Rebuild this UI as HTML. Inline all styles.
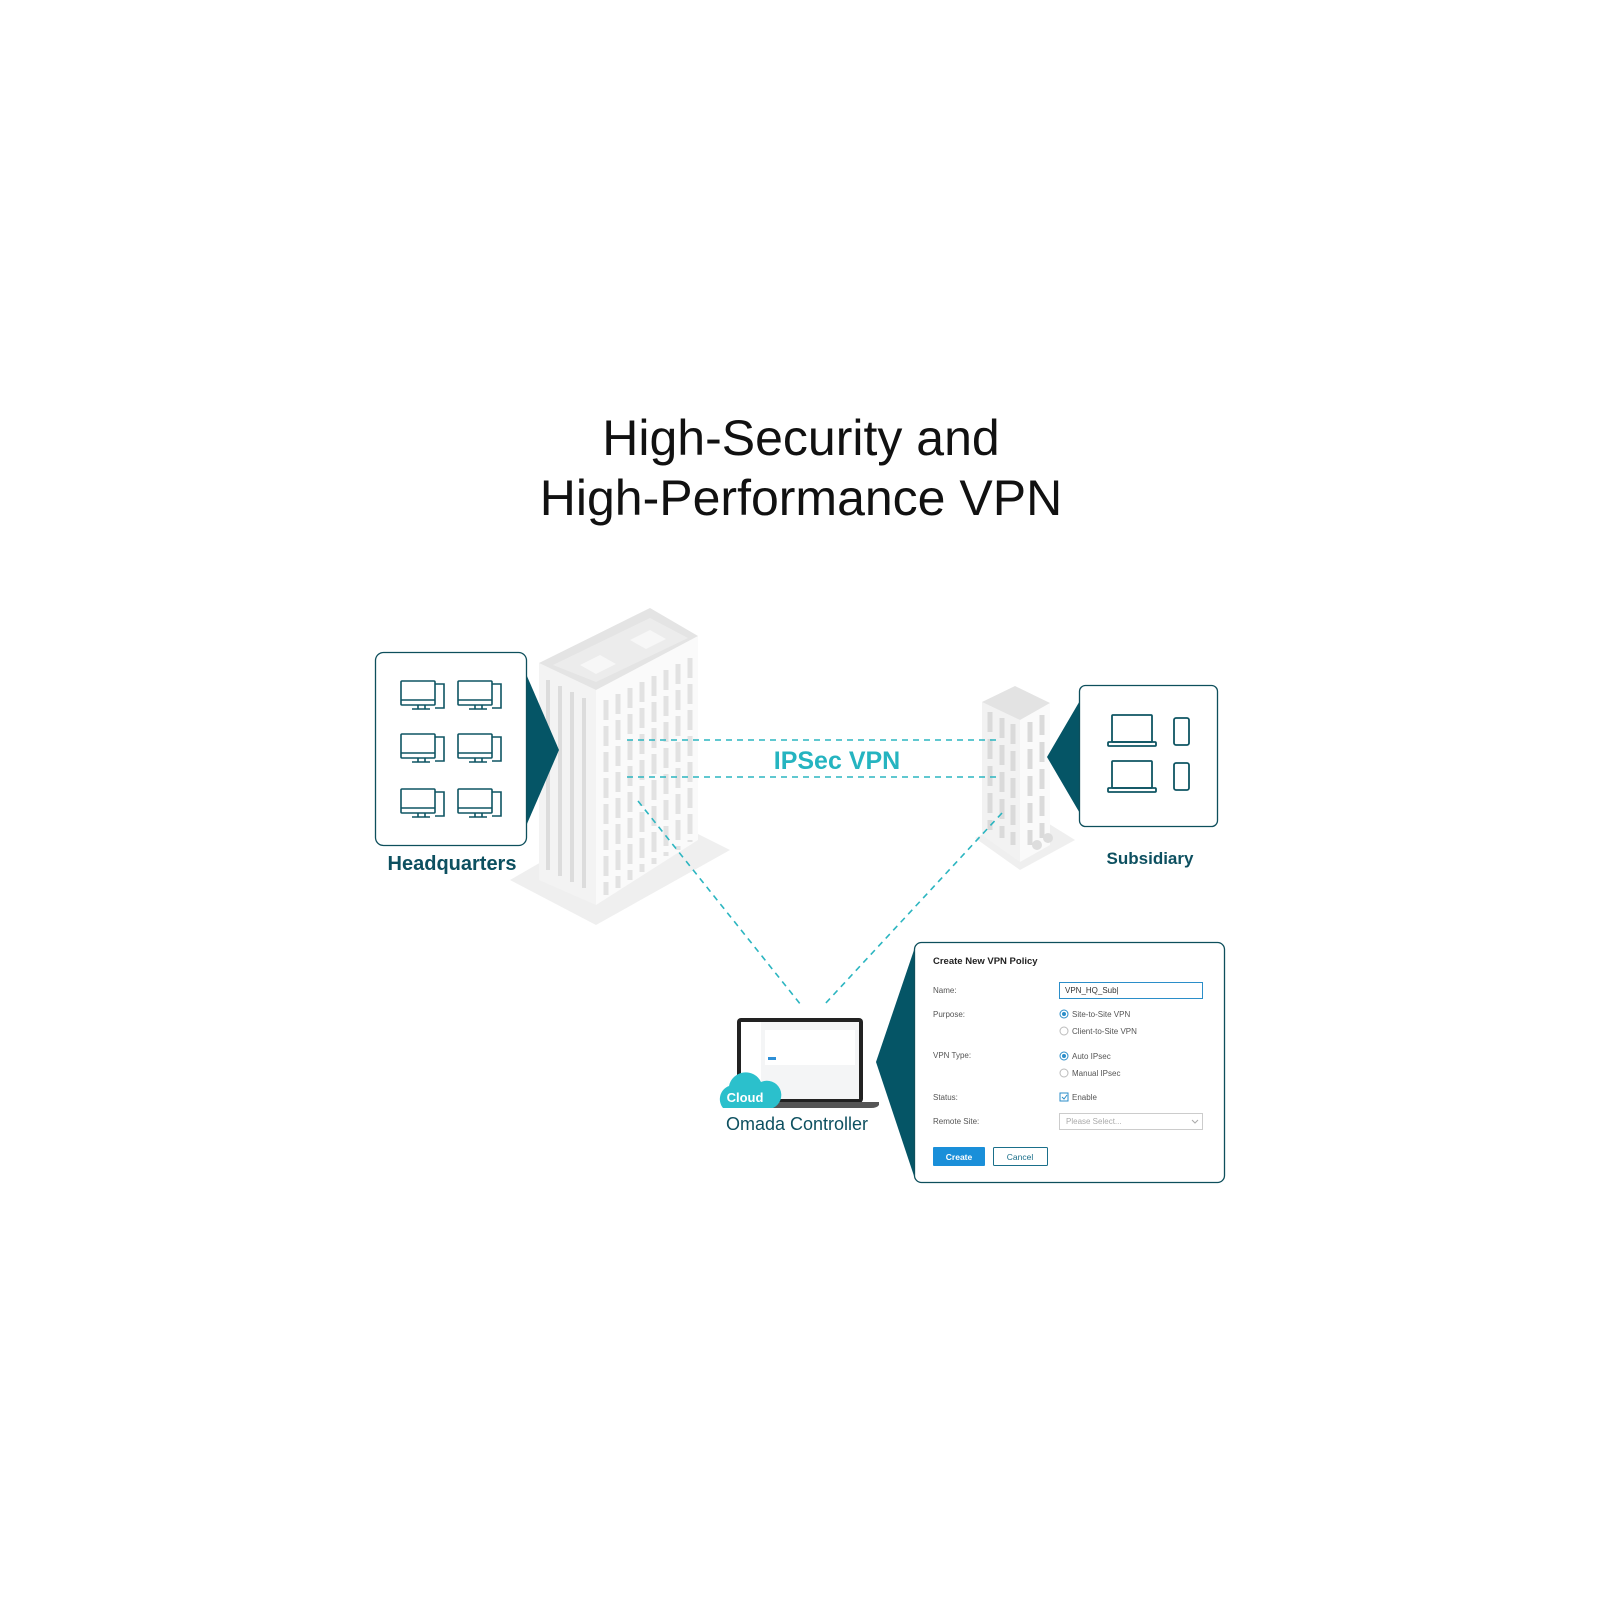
<!DOCTYPE html>
<html><head><meta charset="utf-8"><style>
html,body{margin:0;padding:0;background:#fff;}
svg{display:block;font-family:"Liberation Sans",sans-serif;}
</style></head><body>
<svg width="1600" height="1600" viewBox="0 0 1600 1600" xmlns="http://www.w3.org/2000/svg">
<rect width="1600" height="1600" fill="#fff"/>
<text x="801" y="455" text-anchor="middle" font-size="50" fill="#111">High-Security and</text>
<text x="801" y="515" text-anchor="middle" font-size="50" fill="#111">High-Performance VPN</text>

<!-- HQ building -->
<polygon points="510,880 596,925 730,850 640,805" fill="#efefef"/>
<polygon points="539,663 596,690 596,905 539,880" fill="#f3f3f3"/>
<polygon points="596,690 698,636 698,840 596,905" fill="#fafafa"/>
<polygon points="539,663 650,608 698,636 596,690" fill="#e4e4e4"/>
<polygon points="553,665 650,618 688,638 596,682" fill="#ececec"/>
<polygon points="580,665 600,655 616,664 596,674" fill="#f7f7f7"/>
<polygon points="630,640 650,630 666,639 646,649" fill="#f7f7f7"/>
<g fill="#dcdcdc">
<rect x="546" y="680" width="4" height="190"/><rect x="558" y="686" width="4" height="190"/><rect x="570" y="692" width="4" height="190"/><rect x="582" y="698" width="4" height="190"/>
</g>
<g stroke="#e2e2e2" stroke-width="5" stroke-dasharray="20,6">
<line x1="606" y1="700" x2="606" y2="895"/><line x1="618" y1="694" x2="618" y2="888"/><line x1="630" y1="688" x2="630" y2="880"/><line x1="642" y1="682" x2="642" y2="872"/><line x1="654" y1="676" x2="654" y2="864"/><line x1="666" y1="670" x2="666" y2="856"/><line x1="678" y1="664" x2="678" y2="850"/><line x1="690" y1="658" x2="690" y2="842"/>
</g>

<!-- Sub building -->
<polygon points="975,838 1020,870 1075,840 1030,812" fill="#efefef"/>
<polygon points="982,702 1020,720 1020,862 982,835" fill="#f2f2f2"/>
<polygon points="1020,720 1050,703 1050,845 1020,862" fill="#fafafa"/>
<polygon points="982,702 1015,686 1050,703 1020,720" fill="#e3e3e3"/>
<g stroke="#dadada" stroke-width="5" stroke-dasharray="20,7">
<line x1="990" y1="712" x2="990" y2="830"/><line x1="1002" y1="718" x2="1002" y2="838"/><line x1="1013" y1="724" x2="1013" y2="845"/>
<line x1="1030" y1="722" x2="1030" y2="845"/><line x1="1042" y1="715" x2="1042" y2="838"/>
</g>
<circle cx="1037" cy="845" r="5" fill="#ddd"/><circle cx="1048" cy="838" r="5" fill="#ddd"/>

<!-- dashed lines -->
<g stroke="#2bb5c0" stroke-width="1.6" stroke-dasharray="6,5" fill="none">
<line x1="627" y1="740" x2="1000" y2="740"/>
<line x1="627" y1="777" x2="1000" y2="777"/>
<line x1="638" y1="801" x2="801" y2="1005"/>
<line x1="1002" y1="813" x2="824" y2="1005"/>
</g>
<rect x="765" y="745" width="145" height="32" fill="#fff" opacity="0"/>
<text x="837" y="769" text-anchor="middle" font-size="25" font-weight="bold" fill="#25b4c0">IPSec VPN</text>

<!-- HQ box -->
<polygon points="520,660 559,750 520,840" fill="#055566"/>
<rect x="375.5" y="652.5" width="151" height="193" rx="8" fill="#fff" stroke="#0e4f5c" stroke-width="1.3"/>
<g fill="none" stroke="#0e5563" stroke-width="1.6">
<g id="pc"><rect x="401" y="681" width="34" height="24" rx="1"/><line x1="401" y1="700" x2="435" y2="700"/><path d="M435 684 h9 v24 h-9"/><line x1="412" y1="709" x2="430" y2="709"/><line x1="418" y1="705" x2="418" y2="709"/><line x1="425" y1="705" x2="425" y2="709"/></g>
<use href="#pc" x="57"/><use href="#pc" y="53"/><use href="#pc" x="57" y="53"/><use href="#pc" y="108"/><use href="#pc" x="57" y="108"/>
</g>
<text x="452" y="870" text-anchor="middle" font-size="20" font-weight="bold" fill="#0d5060">Headquarters</text>

<!-- Sub box -->
<polygon points="1085,692 1047,757 1085,822" fill="#055566"/>
<rect x="1079.5" y="685.5" width="138" height="141" rx="6" fill="#fff" stroke="#0e4f5c" stroke-width="1.3"/>
<g fill="none" stroke="#0e5563" stroke-width="1.8">
<rect x="1112" y="715" width="40" height="27" rx="1"/><rect x="1108" y="742" width="48" height="4" rx="1"/>
<rect x="1112" y="761" width="40" height="27" rx="1"/><rect x="1108" y="788" width="48" height="4" rx="1"/>
<rect x="1174" y="718" width="15" height="27" rx="2"/><rect x="1174" y="763" width="15" height="27" rx="2"/>
</g>
<text x="1150" y="864" text-anchor="middle" font-size="17" font-weight="bold" fill="#0d5060">Subsidiary</text>

<!-- laptop -->
<rect x="737" y="1018" width="126" height="85" rx="4" fill="#222"/>
<rect x="741" y="1022" width="118" height="77" fill="#f4f5f6"/>
<rect x="741" y="1022" width="20" height="77" fill="#fff"/>
<rect x="765" y="1030" width="90" height="35" fill="#fff"/>
<rect x="768" y="1057" width="8" height="3" fill="#2d8fd6"/>
<path d="M725 1102 h154 v3 q-2 3 -8 3 h-138 q-6 0 -8 -3 z" fill="#555"/>
<path d="M723 1108 a14 14 0 0 1 6 -22 a17 17 0 0 1 32 -4 a13 13 0 0 1 12 26 z" fill="#2bc0cc"/>
<text x="745" y="1102" text-anchor="middle" font-size="13" font-weight="bold" fill="#fff">Cloud</text>
<text x="797" y="1130" text-anchor="middle" font-size="18" fill="#0d5060">Omada Controller</text>

<!-- form -->
<polygon points="914,950 876,1062 914,1176" fill="#055566"/>
<rect x="914.5" y="942.5" width="310" height="240" rx="7" fill="#fff" stroke="#0e4f5c" stroke-width="1.3"/>
<g font-size="8" fill="#555">
<text x="933" y="964" font-size="9.5" font-weight="bold" fill="#222">Create New VPN Policy</text>
<text x="933" y="993">Name:</text>
<text x="933" y="1017">Purpose:</text>
<text x="933" y="1058">VPN Type:</text>
<text x="933" y="1100">Status:</text>
<text x="933" y="1124">Remote Site:</text>
</g>
<rect x="1059.5" y="982.5" width="143" height="16" fill="#fff" stroke="#2b8ec9" stroke-width="1"/>
<text x="1065" y="993" font-size="8" fill="#333">VPN_HQ_Sub|</text>
<g font-size="8" fill="#555">
<circle cx="1064" cy="1014" r="4" fill="#fff" stroke="#2b8ec9"/><circle cx="1064" cy="1014" r="2" fill="#2b8ec9"/>
<text x="1072" y="1017">Site-to-Site VPN</text>
<circle cx="1064" cy="1031" r="4" fill="#fff" stroke="#bbb"/>
<text x="1072" y="1034">Client-to-Site VPN</text>
<circle cx="1064" cy="1056" r="4" fill="#fff" stroke="#2b8ec9"/><circle cx="1064" cy="1056" r="2" fill="#2b8ec9"/>
<text x="1072" y="1059">Auto IPsec</text>
<circle cx="1064" cy="1073" r="4" fill="#fff" stroke="#bbb"/>
<text x="1072" y="1076">Manual IPsec</text>
<rect x="1060" y="1093" width="8" height="8" fill="#fff" stroke="#2b8ec9"/>
<path d="M1062 1097 l2 2 l3 -4" stroke="#2b8ec9" fill="none"/>
<text x="1072" y="1100">Enable</text>
<rect x="1059.5" y="1113.5" width="143" height="16" fill="#fff" stroke="#ccc"/>
<text x="1066" y="1124" fill="#aaa">Please Select...</text>
<path d="M1192 1120 l3 3 l3 -3" stroke="#aaa" fill="none"/>
</g>
<rect x="933" y="1147" width="52" height="19" rx="1" fill="#1a8fd9"/>
<text x="959" y="1160" text-anchor="middle" font-size="8.5" font-weight="bold" fill="#fff">Create</text>
<rect x="993.5" y="1147.5" width="54" height="18" rx="1" fill="#fff" stroke="#1a6f8a"/>
<text x="1020" y="1160" text-anchor="middle" font-size="8.5" fill="#1a6f8a">Cancel</text>
</svg>
</body></html>
